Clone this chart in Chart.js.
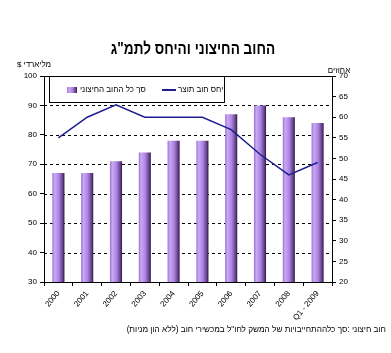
<!DOCTYPE html>
<html>
<head>
<meta charset="utf-8">
<script src="https://cdn.jsdelivr.net/npm/chart.js@4/dist/chart.umd.min.js"></script>
<style>
  html, body { margin: 0; padding: 0; background: #fff; }
  #wrap { position: relative; width: 391px; height: 353px; font-family: "Liberation Sans", Arial, sans-serif; color: #000; }
  .txt { position: absolute; white-space: nowrap; line-height: 1; }
  #title { left: 193px; top: 40px; transform: translateX(-50%) scaleX(0.8); font-size: 17px; font-weight: bold; }
  #unitLeft { left: 34px; top: 61px; transform: translateX(-50%); font-size: 8px; }
  #unitRight { left: 339px; top: 67px; transform: translateX(-50%); font-size: 8px; }
  #note { right: 5px; top: 326px; font-size: 8.2px; }
  #legend {
    position: absolute; left: 49px; top: 76px; width: 174px; height: 25px;
    border: 1px solid #000; background: #fff;
  }
  #legend .sw { position: absolute; top: 10px; }
  #legend .lbl { position: absolute; top: 9px; font-size: 8px; white-space: nowrap; line-height: 1; }
</style>
</head>
<body>
<div id="wrap">
  <canvas id="debtChart" width="391" height="353"></canvas>
  <div id="title" class="txt" dir="rtl">החוב החיצוני והיחס לתמ"ג</div>
  <div id="unitLeft" class="txt" dir="rtl">מליארדי $</div>
  <div id="unitRight" class="txt" dir="rtl">אחוזים</div>
  <div id="legend"></div>
  <div id="note" class="txt" dir="rtl">חוב חיצוני :סך כלההתחייבויות של המשק לחו"ל במכשירי חוב (ללא הון מניות)</div>
</div>
<script>
const categories = ['2000', '2001', '2002', '2003', '2004', '2005', '2006', '2007', '2008', 'Q1 - 2009'];
const externalDebt = [67, 67, 71, 74, 78, 78, 87, 90, 86, 84];   // $ bn, left axis
const debtToGdp = [55, 60, 63, 60, 60, 60, 57, 51, 46, 49];      // %, right axis
const leftTicks = [30, 40, 50, 60, 70, 80, 90, 100];
const rightTicks = [20, 25, 30, 35, 40, 45, 50, 55, 60, 65, 70];

const FONT = '"Liberation Sans", Arial, sans-serif';
const BAR_PCT = 0.42;
const BAR_STOPS = [[0, '#9a72cc'], [0.2, '#cba8f8'], [0.55, '#a983dd'], [0.85, '#65418c'], [1, '#2c1840']];
const LINE_COLOR = '#1e1e8e';

function barGradient(ctx, x0, x1) {
  const g = ctx.createLinearGradient(x0, 0, x1, 0);
  BAR_STOPS.forEach(s => g.addColorStop(s[0], s[1]));
  return g;
}

function barColor(context) {
  const chart = context.chart;
  const x = chart.scales.x;
  if (!chart.chartArea || !x) return '#a983dd';
  const w = (x.width / categories.length) * BAR_PCT;
  const cx = x.getPixelForValue(context.dataIndex);
  return barGradient(chart.ctx, cx - w / 2, cx + w / 2);
}

// dashed horizontal grid at the inner left-axis ticks, solid top edge of the frame
const plotFrame = {
  id: 'plotFrame',
  beforeDatasetsDraw(chart) {
    const { ctx, chartArea, scales } = chart;
    ctx.save();
    ctx.strokeStyle = '#000';
    ctx.lineWidth = 1;
    ctx.setLineDash([3, 3]);
    leftTicks.slice(1, -1).forEach(v => {
      const y = Math.round(scales.y.getPixelForValue(v)) + 0.5;
      ctx.beginPath();
      ctx.moveTo(chartArea.left, y);
      ctx.lineTo(chartArea.right, y);
      ctx.stroke();
    });
    ctx.restore();
  },
  afterDraw(chart) {
    const { ctx, chartArea } = chart;
    ctx.save();
    ctx.strokeStyle = '#000';
    ctx.lineWidth = 1;
    ctx.beginPath();
    ctx.moveTo(chartArea.left, Math.round(chartArea.top) + 0.5);
    ctx.lineTo(chartArea.right, Math.round(chartArea.top) + 0.5);
    ctx.stroke();
    ctx.restore();
  }
};

const chart = new Chart(document.getElementById('debtChart'), {
  data: {
    labels: categories,
    datasets: [
      {
        type: 'line',
        label: 'יחס חוב תוצר',
        data: debtToGdp,
        yAxisID: 'y2',
        borderColor: LINE_COLOR,
        borderWidth: 1.5,
        pointRadius: 0,
        tension: 0,
        order: 0
      },
      {
        type: 'bar',
        label: 'סך כל החוב החיצוני',
        data: externalDebt,
        yAxisID: 'y',
        backgroundColor: barColor,
        borderWidth: 0,
        barPercentage: BAR_PCT,
        categoryPercentage: 1,
        order: 1
      }
    ]
  },
  options: {
    responsive: false,
    animation: false,
    layout: { padding: { left: 0, right: 0, top: 76, bottom: 31 } },
    plugins: {
      legend: { display: false },
      tooltip: { enabled: false },
      title: { display: false }
    },
    scales: {
      x: {
        offset: true,
        afterFit: s => { s.height = 40; },
        grid: { offset: true, drawOnChartArea: false, drawTicks: true, tickLength: 4, color: '#000' },
        border: { color: '#000', width: 1 },
        ticks: {
          color: '#000', font: { family: FONT, size: 8 },
          minRotation: 50, maxRotation: 50, autoSkip: false, padding: 3
        }
      },
      y: {
        position: 'left',
        min: 30, max: 100,
        afterBuildTicks: s => { s.ticks = leftTicks.map(v => ({ value: v })); },
        afterFit: s => { s.width = 44; },
        grid: { drawOnChartArea: false, tickLength: 4, color: '#000' },
        border: { color: '#000', width: 1 },
        ticks: { color: '#000', font: { family: FONT, size: 8 }, padding: 3 }
      },
      y2: {
        position: 'right',
        min: 20, max: 70,
        afterBuildTicks: s => { s.ticks = rightTicks.map(v => ({ value: v })); },
        afterFit: s => { s.width = 59; },
        grid: { drawOnChartArea: false, tickLength: 4, color: '#000' },
        border: { color: '#000', width: 1 },
        ticks: { color: '#000', font: { family: FONT, size: 8 }, padding: 3 }
      }
    }
  },
  plugins: [plotFrame]
});

// legend built from the datasets (HTML so Hebrew shapes right-to-left)
const legend = document.getElementById('legend');
const barDs = chart.data.datasets[1];
const lineDs = chart.data.datasets[0];
const grad = 'linear-gradient(to right, ' + BAR_STOPS.map(s => s[1] + ' ' + (s[0] * 100) + '%').join(', ') + ')';
legend.innerHTML =
  '<span class="sw" style="left:17px;width:10px;height:6px;background:' + grad + '"></span>' +
  '<span class="lbl" dir="rtl" style="left:30px">' + barDs.label + '</span>' +
  '<span class="sw" style="left:112px;top:12px;width:14px;height:2px;background:' + LINE_COLOR + '"></span>' +
  '<span class="lbl" dir="rtl" style="left:128px">' + lineDs.label + '</span>';
</script>
</body>
</html>
